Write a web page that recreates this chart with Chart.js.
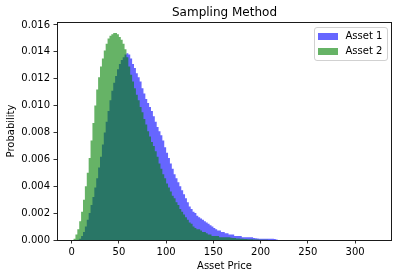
<!DOCTYPE html>
<html>
<head>
<meta charset="utf-8">
<script src="https://cdn.jsdelivr.net/npm/chart.js@4.4.1/dist/chart.umd.min.js"></script>
<style>
  html, body { margin: 0; padding: 0; background: #fff; }
  #wrap { width: 398px; height: 278px; }
</style>
</head>
<body>
<div id="wrap"><canvas id="chart" width="398" height="278"></canvas></div>
<script>
// ── Data (histogram bins, density) ────────────────────────────────────────────
const binCenters = [
    1, 3, 5, 7, 9, 11, 13, 15, 17, 19,
    21, 23, 25, 27, 29, 31, 33, 35, 37, 39,
    41, 43, 45, 47, 49, 51, 53, 55, 57, 59,
    61, 63, 65, 67, 69, 71, 73, 75, 77, 79,
    81, 83, 85, 87, 89, 91, 93, 95, 97, 99,
    101, 103, 105, 107, 109, 111, 113, 115, 117, 119,
    121, 123, 125, 127, 129, 131, 133, 135, 137, 139,
    141, 143, 145, 147, 149, 151, 153, 155, 157, 159,
    161, 163, 165, 167, 169, 171, 173, 175, 177, 179,
    181, 183, 185, 187, 189, 191, 193, 195, 197, 199,
    201, 203, 205, 207, 209, 211, 213, 215, 217, 219
];

const asset1 = [
    0, 0, 0, 0.00002, 0.0001, 0.0003, 0.0006, 0.0010, 0.0015, 0.0020,
    0.0026, 0.0032, 0.0039, 0.0046, 0.0054, 0.0062, 0.0071, 0.0080, 0.0088, 0.0096,
    0.0104, 0.0111, 0.0117, 0.0122, 0.0127, 0.0131, 0.0134, 0.0136, 0.0138, 0.0139,
    0.0138, 0.0135, 0.0131, 0.0128, 0.0124, 0.0121, 0.0118, 0.0113, 0.0109, 0.0105,
    0.0102, 0.0099, 0.0096, 0.0092, 0.0088, 0.0084, 0.0081, 0.0078, 0.0074, 0.0069,
    0.0065, 0.0061, 0.0057, 0.0053, 0.0049, 0.0046, 0.0043, 0.0040, 0.0037, 0.0034,
    0.0031, 0.0028, 0.0025, 0.0023, 0.0021, 0.0020, 0.0018, 0.0017, 0.0016, 0.0015,
    0.0014, 0.0013, 0.0012, 0.0011, 0.0010, 0.0009, 0.0008, 0.0007, 0.0007, 0.0006,
    0.0006, 0.0005, 0.0005, 0.0004, 0.0004, 0.0004, 0.0003, 0.0003, 0.0003, 0.0003,
    0.0002, 0.0002, 0.0002, 0.0002, 0.0002, 0.0002, 0.00015, 0.00013, 0.00012, 0.0001,
    0.0001, 0.0001, 0.0001, 0.0001, 0.0001, 0.0001, 0.0001, 0.00008, 0.00003, 0
];

const asset2 = [
    0, 0.0001, 0.0004, 0.0008, 0.0014, 0.0021, 0.0030, 0.0040, 0.0050, 0.0061,
    0.0074, 0.0087, 0.0100, 0.0112, 0.0121, 0.0129, 0.0135, 0.0141, 0.0146, 0.0150,
    0.0152, 0.0153, 0.0154, 0.0154, 0.0153, 0.0151, 0.0149, 0.0146, 0.0142, 0.0136,
    0.0129, 0.0123, 0.0118, 0.0113, 0.0108, 0.0104, 0.0099, 0.0095, 0.0090, 0.0086,
    0.0081, 0.0077, 0.0073, 0.0070, 0.0066, 0.0062, 0.0057, 0.0053, 0.0049, 0.0046,
    0.0042, 0.0039, 0.0036, 0.0033, 0.0031, 0.0028, 0.0026, 0.0023, 0.0021, 0.0019,
    0.0017, 0.0015, 0.0013, 0.0012, 0.0010, 0.0009, 0.0008, 0.0008, 0.0007, 0.0006,
    0.0006, 0.0005, 0.0004, 0.0004, 0.0003, 0.0003, 0.0003, 0.0003, 0.0002, 0.0002,
    0.0002, 0.0002, 0.0002, 0.0002, 0.00017, 0.00015, 0.00014, 0.00012, 0.00011, 0.0001,
    0.00009, 0.00008, 0.00007, 0.00006, 0.00005, 0.00005, 0.00004, 0.00003, 0.00003, 0.00002,
    0.00002, 0.00001, 0.00001, 0.00001, 0, 0, 0, 0, 0, 0
];

const seriesLabels = ['Asset 1', 'Asset 2'];
const seriesColors = ['rgba(0, 0, 255, 0.6)', 'rgba(0, 128, 0, 0.6)'];
const xTicks = [0, 50, 100, 150, 200, 250, 300];
const yTicks = [0, 0.002, 0.004, 0.006, 0.008, 0.010, 0.012, 0.014, 0.016];

const FONT = '"DejaVu Sans", "Liberation Sans", sans-serif';
Chart.defaults.font.family = FONT;
Chart.defaults.color = '#000';

// ── Helpers ───────────────────────────────────────────────────────────────────
const toPoints = values => binCenters.map((x, i) => ({ x, y: values[i] }));

// matplotlib style frame round the plot area
const frameBox = {
    id: 'frameBox',
    afterDatasetsDraw(chart) {
        const { ctx, chartArea: a } = chart;
        ctx.save();
        ctx.strokeStyle = '#1a1a1a';
        ctx.lineWidth = 1;
        ctx.strokeRect(Math.round(a.left) + 0.5, Math.round(a.top) + 0.5,
                       Math.round(a.right - a.left) - 1, Math.round(a.bottom - a.top));
        ctx.restore();
    }
};

// legend drawn inside the plot, upper right
const insideLegend = {
    id: 'insideLegend',
    afterDraw(chart) {
        const { ctx, chartArea: a } = chart;
        const w = 73, h = 33;
        const x = Math.round(a.right - 5 - w) + 0.5;
        const y = Math.round(a.top + 5) + 0.5;
        ctx.save();
        ctx.beginPath();
        ctx.roundRect(x, y, w, h, 2.5);
        ctx.fillStyle = 'rgba(255, 255, 255, 0.8)';
        ctx.fill();
        ctx.strokeStyle = 'rgba(204, 204, 204, 0.9)';
        ctx.lineWidth = 1;
        ctx.stroke();
        ctx.font = '10px ' + FONT;
        ctx.textBaseline = 'middle';
        chart.data.datasets.forEach((ds, i) => {
            const rowY = y + 8.5 + i * 15.5;
            ctx.fillStyle = ds.backgroundColor;
            ctx.fillRect(Math.round(x + 3.5), Math.round(rowY - 3.5), 20, 7);
            ctx.fillStyle = '#000';
            ctx.fillText(ds.label, x + 31, rowY);
        });
        ctx.restore();
    }
};

// ── Chart ─────────────────────────────────────────────────────────────────────
const datasetFor = (i, values, order) => ({
    label: seriesLabels[i],
    data: toPoints(values),
    backgroundColor: seriesColors[i],
    borderColor: 'rgba(0, 0, 0, 0)',
    borderWidth: 0,
    fill: 'origin',
    stepped: 'middle',
    pointRadius: 0,
    pointHoverRadius: 0,
    order
});

new Chart(document.getElementById('chart'), {
    type: 'line',
    data: {
        datasets: [
            datasetFor(0, asset1, 2),
            datasetFor(1, asset2, 1)
        ]
    },
    options: {
        responsive: false,
        animation: false,
        devicePixelRatio: 1,
        layout: { padding: { left: 0, right: 6, top: 0, bottom: 0 } },
        plugins: {
            legend: { display: false },
            tooltip: { enabled: false },
            title: {
                display: true,
                text: 'Sampling Method',
                fullSize: false,
                font: { size: 12, weight: 'normal' },
                padding: { top: 6, bottom: 1.6 }
            }
        },
        scales: {
            x: {
                type: 'linear',
                min: -15.5,
                max: 339,
                afterBuildTicks: scale => { scale.ticks = xTicks.map(v => ({ value: v })); },
                afterFit: scale => { scale.height = 38; },
                ticks: { font: { size: 10 }, padding: 2.5, maxRotation: 0, callback: v => String(v) },
                grid: { drawOnChartArea: false, drawTicks: true, tickLength: 3.5, color: '#000', lineWidth: 0.8 },
                border: { display: false },
                title: { display: true, text: 'Asset Price', font: { size: 10 }, padding: { top: 0, bottom: 6 } }
            },
            y: {
                min: 0,
                max: 0.01622,
                afterBuildTicks: scale => { scale.ticks = yTicks.map(v => ({ value: v })); },
                afterFit: scale => { scale.width = 57; },
                ticks: { font: { size: 10 }, padding: 3.5, callback: v => v.toFixed(3) },
                grid: { drawOnChartArea: false, drawTicks: true, tickLength: 3.5, color: '#000', lineWidth: 0.8 },
                border: { display: false },
                title: { display: true, text: 'Probability', font: { size: 10 }, padding: { top: 5, bottom: 0 } }
            }
        }
    },
    plugins: [frameBox, insideLegend]
});
</script>
</body>
</html>
